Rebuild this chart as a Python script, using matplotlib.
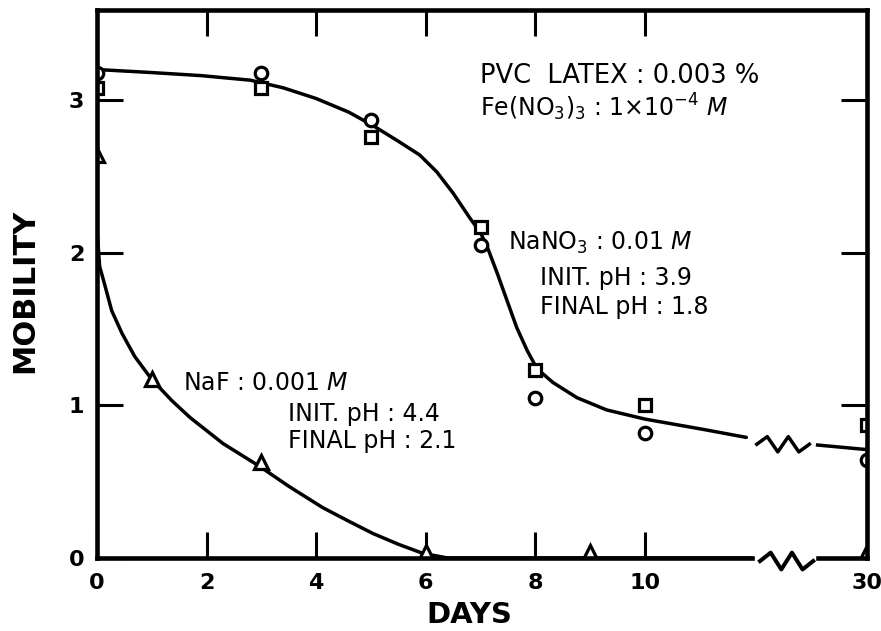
import numpy as np
import matplotlib
matplotlib.use("Agg")
import matplotlib.pyplot as plt

# ── data ─────────────────────────────────────────────────────────────────
# NaNO3 series: squares and circles (two replicate runs)
days_sq = [0, 3, 5, 7, 8, 10, 30]
mob_sq = [3.08, 3.08, 2.76, 2.17, 1.23, 1.00, 0.87]
days_ci = [0, 3, 5, 7, 8, 10, 30]
mob_ci = [3.18, 3.18, 2.87, 2.05, 1.05, 0.82, 0.64]

# NaF series: triangles
days_tri = [0, 1, 3, 6, 9, 30]
mob_tri = [2.64, 1.17, 0.63, 0.04, 0.04, 0.04]

# hand-drawn trend curves
nano3_curve_days = [0, 1, 1.9, 2.8, 3.4, 4.0, 4.6, 5.05, 5.5, 5.89, 6.2, 6.5,
                    6.8, 7.0, 7.12, 7.3, 7.48, 7.66, 7.85, 8.03, 8.32, 8.76,
                    9.3, 10.0, 11.1, 11.85]
nano3_curve_mob = [3.20, 3.18, 3.16, 3.13, 3.08, 3.01, 2.92, 2.83, 2.73, 2.64,
                   2.53, 2.39, 2.23, 2.13, 2.04, 1.87, 1.69, 1.51, 1.36, 1.24,
                   1.15, 1.05, 0.97, 0.91, 0.84, 0.79]
nano3_tail_mob = [0.74, 0.71]     # after the axis break, ending at day 30

naf_curve_days = [0, 0.05, 0.15, 0.27, 0.46, 0.69, 1.0, 1.37, 1.7, 2.3, 2.97,
                  3.5, 4.12, 4.6, 5.04, 5.5, 5.95, 6.4, 11.95]
naf_curve_mob = [2.16, 1.91, 1.78, 1.62, 1.47, 1.32, 1.17, 1.03, 0.92, 0.75,
                 0.60, 0.47, 0.33, 0.24, 0.16, 0.09, 0.03, 0.0, 0.0]

x_ticks = [0, 2, 4, 6, 8, 10, 30]
y_ticks = [0, 1, 2, 3]

# ── broken x axis: 0–12 linear, then a jump to day 30 ────────────────────
BREAK_LO, BREAK_HI = 12.0, 13.1
X30 = 14.05


def xpos(d):
    return [X30 if v >= 30 else v for v in np.atleast_1d(d)]


def zigzag(x0, x1, yc, amp, n=5):
    xs = np.linspace(x0, x1, n + 1)
    ys = [yc] + [yc + (amp if i % 2 else -amp) for i in range(1, n)] + [yc]
    return xs, ys


plt.rcParams.update({"font.family": "DejaVu Sans", "mathtext.fontset": "dejavusans"})
fig = plt.figure(figsize=(8.81, 6.31), dpi=100)
ax = fig.add_axes([0.110, 0.1157, 0.874, 0.8685])

LW = 2.5
ax.plot(nano3_curve_days, nano3_curve_mob, color="black", lw=LW,
        solid_capstyle="round", solid_joinstyle="round", zorder=2)
ax.plot([BREAK_HI + 0.05, X30], nano3_tail_mob, color="black", lw=LW, zorder=2)
ax.plot(naf_curve_days, naf_curve_mob, color="black", lw=LW,
        solid_capstyle="round", solid_joinstyle="round", zorder=2)

# break marks on the NaNO3 curve and on the bottom axis
zx, zy = zigzag(BREAK_LO + 0.04, BREAK_HI - 0.1, 0.745, 0.05)
ax.plot(zx, zy, color="black", lw=LW, zorder=2, clip_on=False)
zx, zy = zigzag(BREAK_LO + 0.1, BREAK_HI - 0.03, -0.02, 0.055)
ax.plot(zx, zy, color="black", lw=LW + 0.4, zorder=3, clip_on=False)

# open symbols; those sitting on the frame are cut by it
mk = dict(color="black", mfc="white", mew=2.3, ls="none", zorder=4)
sym = []
sym += ax.plot(xpos(days_sq), mob_sq, marker="s", ms=8.5, **mk)
sym += ax.plot(xpos(days_ci), mob_ci, marker="o", ms=9, **mk)
sym += ax.plot(xpos(days_tri), mob_tri, marker="^", ms=10.5, **mk)
for s in sym:
    s.set_clip_path(ax.patch)

# axes frame: thick spines, bottom one split at the break
SPINE = 3.3
for side in ["left", "top", "right"]:
    ax.spines[side].set_linewidth(SPINE)
    ax.spines[side].set_zorder(5)
ax.spines["bottom"].set_visible(False)
for x0, x1 in [(0, BREAK_LO - 0.05), (BREAK_HI + 0.05, X30)]:
    ax.plot([x0, x1], [0, 0], color="black", lw=SPINE, zorder=5,
            clip_on=False, solid_capstyle="projecting")

ax.set_xlim(0, X30)
ax.set_ylim(0, 3.59)
ax.set_xticks(xpos(x_ticks))
ax.set_xticklabels([str(t) for t in x_ticks])
ax.set_yticks(y_ticks)
ax.set_yticklabels([str(t) for t in y_ticks])

ax.tick_params(axis="both", direction="in", length=19, width=2.2,
               labelsize=16, top=True, right=True)
ax.tick_params(axis="x", pad=11)
ax.tick_params(axis="y", pad=9)
for lab in ax.get_xticklabels() + ax.get_yticklabels():
    lab.set_fontweight("bold")

ax.set_xlabel("DAYS", fontsize=21, fontweight="bold")
ax.xaxis.set_label_coords(0.484, -0.078)
ax.set_ylabel("MOBILITY", fontsize=22, fontweight="bold")
ax.yaxis.set_label_coords(-0.075, 0.487)

# annotations
fs = 17
ax.text(6.99, 3.11, "PVC  LATEX : 0.003 %", fontsize=18.5, va="baseline")
ax.text(6.99, 2.89, "Fe(NO$_3$)$_3$ : 1×10$^{-4}$ $M$", fontsize=fs, va="baseline")
ax.text(7.50, 2.02, "NaNO$_3$ : 0.01 $M$", fontsize=fs, va="baseline")
ax.text(8.08, 1.79, "INIT. pH : 3.9", fontsize=fs, va="baseline")
ax.text(8.08, 1.60, "FINAL pH : 1.8", fontsize=fs, va="baseline")
ax.text(1.57, 1.10, "NaF : 0.001 $M$", fontsize=fs, va="baseline")
ax.text(3.49, 0.90, "INIT. pH : 4.4", fontsize=fs, va="baseline")
ax.text(3.49, 0.72, "FINAL pH : 2.1", fontsize=fs, va="baseline")

fig.savefig("out.png", dpi=100)
